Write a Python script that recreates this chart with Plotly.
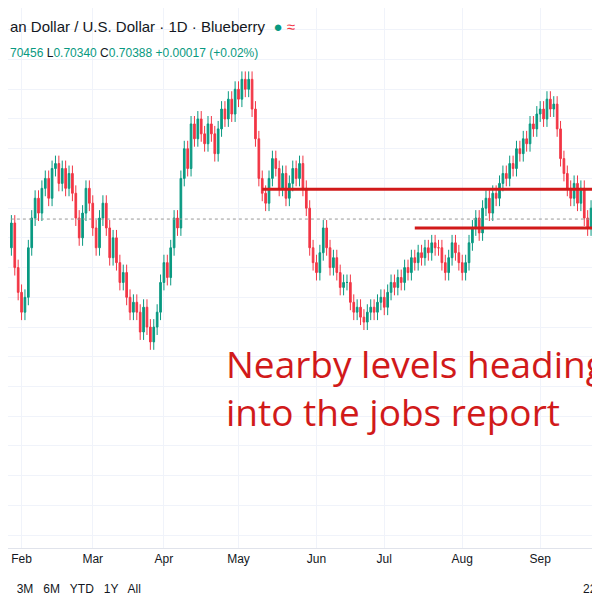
import plotly.graph_objects as go
import pandas as pd

# daily closes, Jan 29 -> late Sep
closes = [0.7035, 0.6990, 0.6965, 0.6945, 0.6960,
          0.7010, 0.7040, 0.7060, 0.7045, 0.7070, 0.7080, 0.7060, 0.7090, 0.7095, 0.7075,
          0.7090, 0.7070, 0.7085, 0.7065, 0.7040, 0.7020, 0.7045, 0.7070, 0.7055,
          0.7030, 0.7010, 0.7040, 0.7055, 0.7030, 0.7000, 0.7020, 0.6995, 0.6975, 0.6985,
          0.6960, 0.6945, 0.6955, 0.6945, 0.6925, 0.6950, 0.6930, 0.6915, 0.6930, 0.6945, 0.6975,
          0.6995, 0.6980, 0.7010, 0.7040, 0.7030, 0.7080, 0.7110, 0.7090, 0.7135, 0.7120, 0.7140,
          0.7125, 0.7115, 0.7135, 0.7125, 0.7105, 0.7130, 0.7150, 0.7140, 0.7160, 0.7145, 0.7170,
          0.7160, 0.7180, 0.7170, 0.7180, 0.7150, 0.7120, 0.7080, 0.7065, 0.7055, 0.7080, 0.7100,
          0.7090, 0.7070, 0.7085, 0.7060, 0.7075, 0.7090, 0.7080, 0.7095, 0.7070, 0.7050, 0.7010,
          0.6995, 0.6985, 0.7005, 0.7030, 0.7010, 0.6990, 0.7000, 0.6985, 0.6970, 0.6975,
          0.6975, 0.6955, 0.6945, 0.6950, 0.6940, 0.6935, 0.6945, 0.6950, 0.6945, 0.6955,
          0.6960, 0.6950, 0.6965, 0.6975, 0.6970, 0.6980, 0.6975, 0.6990, 0.6985, 0.7000, 0.6995,
          0.7005, 0.7000, 0.7010, 0.7005, 0.7015, 0.7010, 0.7010, 0.6995, 0.6985, 0.7000, 0.7015,
          0.7005, 0.6995, 0.6985, 0.6995, 0.7015, 0.7030, 0.7040, 0.7025, 0.7050, 0.7060, 0.7045,
          0.7065, 0.7060, 0.7075, 0.7085, 0.7080, 0.7095, 0.7090, 0.7110, 0.7105, 0.7120, 0.7115,
          0.7135, 0.7130, 0.7145, 0.7150, 0.7140, 0.7160, 0.7150, 0.7155, 0.7130, 0.7100, 0.7085,
          0.7070, 0.7060, 0.7075, 0.7055, 0.7070, 0.7040, 0.7030, 0.7050, 0.7005, 0.7039]
first_open = 0.7010
wick = 0.0008
levels = [0.7069, 0.7030]
level_starts = ["2024-05-10", "2024-07-12"]
last_price = 0.7039

dates = pd.bdate_range("2024-01-29", periods=len(closes))
opens = [first_open] + closes[:-1]
highs = [max(o, c) + wick for o, c in zip(opens, closes)]
lows = [min(o, c) - wick for o, c in zip(opens, closes)]

fig = go.Figure(go.Candlestick(
    x=dates, open=opens, high=highs, low=lows, close=closes,
    increasing=dict(line=dict(color="#089981", width=1), fillcolor="#089981"),
    decreasing=dict(line=dict(color="#f23645", width=1), fillcolor="#f23645"),
    whiskerwidth=0))

for lv, st in zip(levels, level_starts):
    fig.add_shape(type="line", x0=st, x1="2024-10-05", y0=lv, y1=lv,
                  line=dict(color="#d11a1a", width=3))
fig.add_shape(type="line", x0="2024-01-20", x1="2024-10-05", y0=last_price, y1=last_price,
              line=dict(color="#999", width=1, dash="dot"))

fig.update_layout(
    width=600, height=600, margin=dict(l=0, r=0, t=0, b=60),
    plot_bgcolor="white", paper_bgcolor="white", showlegend=False,
    font=dict(family="Liberation Sans", color="#131722"),
    xaxis=dict(range=["2024-01-28", "2024-10-01"], rangeslider=dict(visible=False),
               rangebreaks=[dict(bounds=["sat", "mon"])],
               tickvals=["2024-02-01", "2024-03-01", "2024-04-01", "2024-05-01",
                         "2024-06-03", "2024-07-01", "2024-08-01", "2024-09-03"],
               ticktext=["Feb", "Mar", "Apr", "May", "Jun", "Jul", "Aug", "Sep"],
               showgrid=True, gridcolor="#f0f3fa", ticks="", tickfont=dict(size=12),
               showline=True, linecolor="#e0e3eb"),
    yaxis=dict(range=[0.6707, 0.7252], showticklabels=False, showgrid=True,
               gridcolor="#f0f3fa", dtick=0.003, zeroline=False),
    annotations=[
        dict(xref="paper", yref="paper", x=0.0, y=1.0, yshift=-8, xanchor="left", yanchor="top",
             showarrow=False, font=dict(size=15, color="#131722"),
             text="an Dollar / U.S. Dollar · 1D · Blueberry  <span style='color:#089981'>●</span> <span style='color:#f23645'>≈</span>"),
        dict(xref="paper", yref="paper", x=0.0, y=1.0, yshift=-36, xanchor="left", yanchor="top",
             showarrow=False, font=dict(size=12, color="#089981"),
             text="70456 <span style='color:#131722'>L</span>0.70340 <span style='color:#131722'>C</span>0.70388 +0.00017 (+0.02%)"),
        dict(xref="paper", yref="paper", x=216 / 600, y=1 - 328 / 540, xanchor="left", yanchor="top",
             showarrow=False, align="left", font=dict(size=37, color="#d11a1a", family="Open Sans"),
             text="Nearby levels heading<br>into the jobs report"),
        dict(xref="paper", yref="paper", x=0.0, y=-0.075, xanchor="left", yanchor="middle",
             showarrow=False, font=dict(size=12, color="#131722"),
             text="  3M   6M   YTD   1Y   All"),
        dict(xref="paper", yref="paper", x=0.985, y=-0.075, xanchor="right", yanchor="middle",
             showarrow=False, font=dict(size=12, color="#131722"), text="22"),
    ],
)
fig.write_html("out.html")
